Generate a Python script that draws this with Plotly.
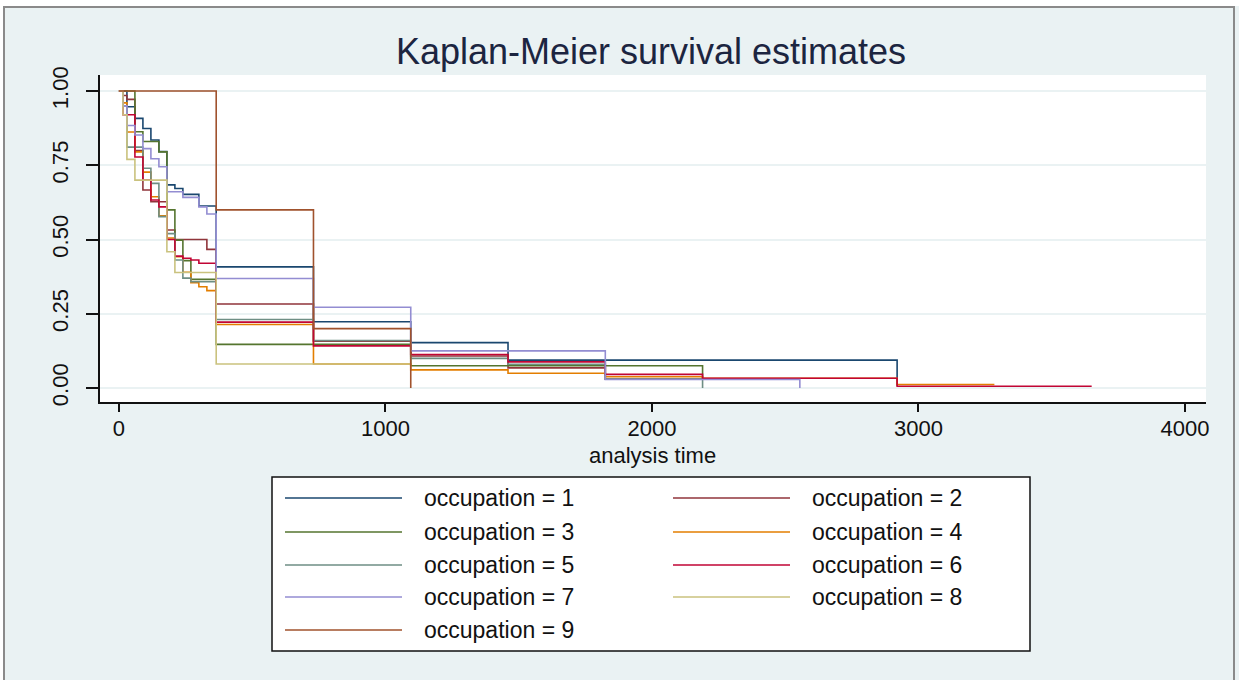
import plotly.graph_objects as go

# ---- data (analysis time in days, Kaplan-Meier survival estimate) ----
labels = ["occupation = 1", "occupation = 2", "occupation = 3", "occupation = 4", "occupation = 5",
          "occupation = 6", "occupation = 7", "occupation = 8", "occupation = 9"]

t1 = [0, 30, 60, 90, 120, 150, 180, 210, 240, 300, 365, 730, 1095, 1460, 2920]
s1 = [1.0, 0.947, 0.908, 0.874, 0.835, 0.796, 0.684, 0.672, 0.652, 0.613, 0.408, 0.223, 0.153, 0.094, 0.008]

t2 = [0, 15, 30, 60, 90, 120, 180, 210, 330, 365, 730, 1095, 1460, 1825, 2555]
s2 = [1.0, 0.985, 0.972, 0.80, 0.667, 0.627, 0.532, 0.50, 0.467, 0.283, 0.158, 0.108, 0.068, 0.03, 0.03]

t3 = [0, 60, 90, 150, 180, 210, 240, 270, 365, 1095, 2190, 2555]
s3 = [1.0, 0.863, 0.83, 0.795, 0.60, 0.498, 0.429, 0.366, 0.147, 0.075, 0.03, 0.03]

t4 = [0, 15, 30, 60, 90, 120, 150, 180, 210, 240, 270, 300, 330, 365, 730, 1095, 1460, 1825, 2190, 2920, 3285]
s4 = [1.0, 0.96, 0.862, 0.795, 0.727, 0.644, 0.58, 0.505, 0.442, 0.39, 0.355, 0.341, 0.328, 0.214, 0.081,
      0.061, 0.05, 0.038, 0.033, 0.012, 0.012]

t5 = [0, 15, 30, 90, 120, 150, 180, 210, 240, 270, 365, 730, 1095, 1460, 1825, 2190]
s5 = [1.0, 0.95, 0.811, 0.74, 0.689, 0.577, 0.52, 0.431, 0.37, 0.358, 0.231, 0.16, 0.10, 0.08, 0.03, 0.0]

t6 = [0, 15, 60, 90, 120, 150, 180, 210, 240, 270, 300, 365, 730, 1095, 1460, 1825, 2190, 2920, 3650]
s6 = [1.0, 0.92, 0.778, 0.70, 0.633, 0.61, 0.50, 0.444, 0.437, 0.431, 0.42, 0.222, 0.142, 0.113, 0.088,
      0.046, 0.033, 0.006, 0.006]

t7 = [0, 15, 30, 60, 90, 120, 150, 180, 240, 300, 330, 365, 730, 1095, 1825, 2555]
s7 = [1.0, 0.95, 0.884, 0.852, 0.806, 0.772, 0.745, 0.661, 0.642, 0.61, 0.586, 0.369, 0.272, 0.125, 0.029, 0.0]

t8 = [0, 15, 30, 60, 180, 210, 365, 1095]
s8 = [1.0, 0.92, 0.77, 0.70, 0.459, 0.389, 0.081, 0.081]

t9 = [0, 365, 730, 1095]
s9 = [1.0, 0.60, 0.20, 0.0]

times = [t1, t2, t3, t4, t5, t6, t7, t8, t9]
surv = [s1, s2, s3, s4, s5, s6, s7, s8, s9]

colors = ["#1A476F", "#90353B", "#55752F", "#E37E00", "#6E8E84",
          "#C10534", "#938DD2", "#CAC27E", "#A0522D"]

x_ticks = [0, 1000, 2000, 3000, 4000]
y_ticks = [0, 0.25, 0.5, 0.75, 1.0]

FONT = "Liberation Sans, Arial, sans-serif"
BG = "#EAF2F3"

fig = go.Figure()
for t, s, c, name in zip(times, surv, colors, labels):
    fig.add_trace(go.Scatter(x=t, y=s, mode="lines", line=dict(color=c, width=1.6, shape="hv"),
                             name=name, showlegend=False))

# plot area pixel geometry helpers (layout only)
L, R, T, B, W, H = 100, 33, 75, 278, 1239, 680
PW, PH = W - L - R, H - T - B


def px(x):
    return (x - L) / PW


def py(y):
    return (H - B - y) / PH


shapes = []
annotations = []

# outer frame
shapes.append(dict(type="rect", xref="paper", yref="paper", x0=px(4), x1=px(1234), y0=py(700), y1=py(7),
                   line=dict(color="#8a8a8a", width=2), fillcolor="rgba(0,0,0,0)", layer="below"))
# white strip outside the frame (top / left)
shapes.append(dict(type="rect", xref="paper", yref="paper", x0=px(-5), x1=px(1250), y0=py(6), y1=py(-5),
                   line=dict(width=0), fillcolor="white", layer="below"))
shapes.append(dict(type="rect", xref="paper", yref="paper", x0=px(-5), x1=px(3), y0=py(700), y1=py(-5),
                   line=dict(width=0), fillcolor="white", layer="below"))

# legend box
shapes.append(dict(type="rect", xref="paper", yref="paper", x0=px(272), x1=px(1030), y0=py(651), y1=py(477),
                   line=dict(color="#111111", width=1.5), fillcolor="white", layer="above"))
rows = [498, 532, 565, 597, 630]
for i, (name, c) in enumerate(zip(labels, colors)):
    r, col = divmod(i, 2)
    yk = rows[r]
    x0, x1, xt = (285, 402, 422) if col == 0 else (673, 790, 810)
    shapes.append(dict(type="line", xref="paper", yref="paper", x0=px(x0), x1=px(x1), y0=py(yk), y1=py(yk),
                       line=dict(color=c, width=1.6), layer="above"))
    annotations.append(dict(xref="paper", yref="paper", x=px(xt), y=py(yk), text=name, showarrow=False,
                            xanchor="left", yanchor="middle", font=dict(family=FONT, size=23, color="#111111")))

# x-axis title
annotations.append(dict(xref="paper", yref="paper", x=px(652), y=py(456), text="analysis time", showarrow=False,
                        xanchor="center", yanchor="middle", font=dict(family=FONT, size=22, color="#111111")))

fig.update_layout(
    width=W, height=H,
    margin=dict(l=L, r=R, t=T, b=B, autoexpand=False),
    paper_bgcolor=BG, plot_bgcolor="white",
    title=dict(text="Kaplan-Meier survival estimates", x=651 / W, xref="container", xanchor="center",
               y=1 - 51 / H, yref="container", yanchor="middle",
               font=dict(family=FONT, size=36, color="#1c2540")),
    shapes=shapes, annotations=annotations, showlegend=False,
)

fig.update_xaxes(range=[-71, 4079], tickvals=x_ticks, ticktext=[str(v) for v in x_ticks],
                 showgrid=False, zeroline=False, showline=True, linecolor="#111111", linewidth=2,
                 ticks="outside", ticklen=8, tickwidth=2, tickcolor="#111111",
                 tickfont=dict(family=FONT, size=22, color="#111111"), ticklabelstandoff=-2)
fig.update_yaxes(range=[-0.047, 1.054], tickvals=y_ticks, ticktext=["%.2f" % v for v in y_ticks],
                 showgrid=True, gridcolor=BG, gridwidth=2, zeroline=False,
                 showline=True, linecolor="#111111", linewidth=2,
                 ticks="outside", ticklen=12, tickwidth=2, tickcolor="#111111", tickangle=-90,
                 tickfont=dict(family=FONT, size=22, color="#111111"), ticklabelstandoff=9)

fig.write_html("out.html", config={"displayModeBar": False},
               post_script="document.body.style.margin='0px';document.body.style.padding='0px';")
